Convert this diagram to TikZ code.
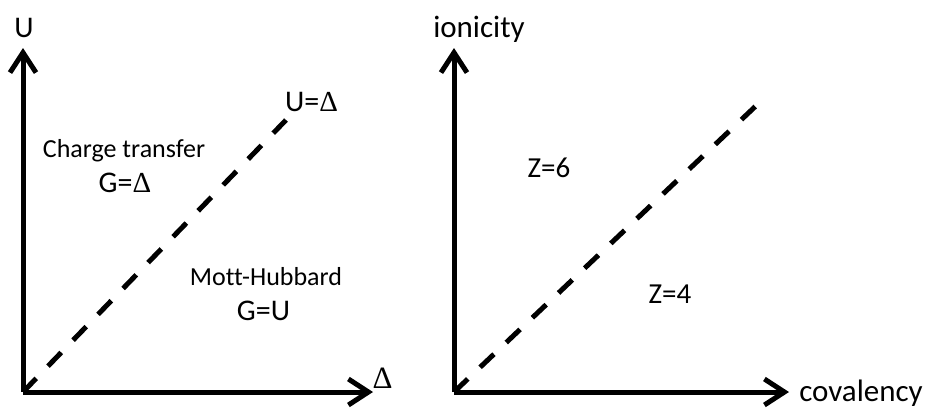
\documentclass[tikz,border=0pt]{standalone}
\usepackage{fontspec}
\setmainfont[Ligatures=NoCommon]{Carlito}
\newfontfamily\dfont{Liberation Serif}
\newcommand{\Dlt}{{\dfont\fontsize{29}{34}\selectfont Δ}}
\newcommand{\DltBig}{{\dfont\fontsize{31}{36}\selectfont Δ}}
\usetikzlibrary{arrows.meta}
\begin{document}
\begin{tikzpicture}[x=1pt,y=-1pt,
  axis/.style={line width=5pt,-{Straight Barb[length=20pt,width=26pt,line width=5pt]}},
  diag/.style={line width=5pt,dash pattern=on 19pt off 17pt},
  lbl/.style={inner sep=0pt,anchor=base,font=\fontsize{26}{31}\selectfont},
  eqlbl/.style={lbl,font=\fontsize{30}{35}\selectfont},
  rlbl/.style={lbl,font=\fontsize{29}{34}\selectfont},
  albl/.style={lbl,font=\fontsize{31}{36}\selectfont}]
\useasboundingbox (0,0) rectangle (926,408);
% left panel
\coordinate (o1) at (23,392);
\coordinate (y1) at (23,48);
\coordinate (x1) at (373,392);
\coordinate (d1) at (286,120);
\draw[axis] (o1) -- (y1);
\draw[axis] (o1) -- (x1);
\draw[diag] (o1) -- (d1);
\node[lbl,font=\fontsize{30}{35}\selectfont] (lu) at (24,37) {U};
\node[eqlbl] (lud) at (311.5,111.5) {U=\Dlt};
\node[lbl] (lct) at (124,157) {Charge transfer};
\node[eqlbl] (lgd) at (125,192) {G=\Dlt};
\node[lbl] (lmh) at (266,285) {Mott-Hubbard};
\node[eqlbl] (lgu) at (263.5,320) {G=U};
\node[lbl] (ld) at (382.5,388) {\DltBig};
% right panel
\coordinate (o2) at (454,392);
\coordinate (y2) at (454,48);
\coordinate (x2) at (789,392);
\coordinate (d2) at (760,102);
\draw[axis] (o2) -- (y2);
\draw[axis] (o2) -- (x2);
\draw[diag] (o2) -- (d2);
\node[albl] (li) at (479,37) {ionicity};
\node[rlbl] (lz6) at (549,177) {Z=6};
\node[rlbl] (lz4) at (670,303) {Z=4};
\node[albl] (lcov) at (861,401) {covalency};
\end{tikzpicture}
\end{document}
